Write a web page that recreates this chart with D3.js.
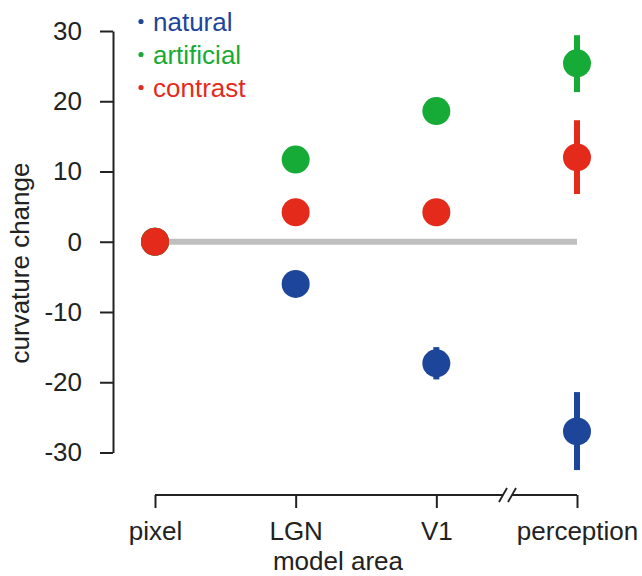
<!DOCTYPE html>
<html>
<head>
<meta charset="utf-8">
<script src="https://cdn.jsdelivr.net/npm/d3@7"></script>
<style>
  body { margin: 0; background: #fff; }
  text { font-family: "Liberation Sans", Arial, sans-serif; }
</style>
</head>
<body>
<div id="chart"></div>
<script>
// model areas along x
const categories = ['pixel', 'LGN', 'V1', 'perception'];
const yTicks = [-30, -20, -10, 0, 10, 20, 30];

// curvature change per area, with error bar ends
const natural = [0, -6.0, -17.3, -27.0];
const naturalLo = [0, -6.0, -19.6, -32.5];
const naturalHi = [0, -6.0, -15.0, -21.4];

const artificial = [0, 11.7, 18.6, 25.4];
const artificialLo = [0, 11.7, 18.6, 21.3];
const artificialHi = [0, 11.7, 18.6, 29.4];

const contrast = [0, 4.2, 4.2, 12.0];
const contrastLo = [0, 4.2, 4.2, 6.8];
const contrastHi = [0, 4.2, 4.2, 17.3];

const seriesNames = ['natural', 'artificial', 'contrast'];
const colors = ['#1d4599', '#16aa36', '#e42b1b'];

const width = 642, height = 576;
const fontSize = 26;
const svg = d3.select('#chart').append('svg')
    .attr('width', width)
    .attr('height', height);

const x = d3.scalePoint()
    .domain(categories)
    .range([155, 577]);
const y = d3.scaleLinear()
    .domain([-30, 30])
    .range([452.5, 31]);

// zero reference line
svg.append('line')
    .attr('x1', x('pixel')).attr('x2', x('perception'))
    .attr('y1', y(0)).attr('y2', y(0))
    .attr('stroke', '#bfbfbf')
    .attr('stroke-width', 6);

// y axis
const yAxis = svg.append('g')
    .attr('transform', 'translate(113,0)')
    .call(d3.axisLeft(y).tickValues(yTicks).tickFormat(d => String(d))
        .tickSize(13).tickSizeOuter(0).tickPadding(18));
yAxis.selectAll('path, line').attr('stroke', '#222').attr('stroke-width', 2);
yAxis.selectAll('text').attr('font-size', fontSize).attr('fill', '#222');

// x axis
const xAxis = svg.append('g')
    .attr('transform', 'translate(0,495)')
    .call(d3.axisBottom(x).tickSize(13).tickSizeOuter(0).tickPadding(14));
xAxis.select('.domain').remove();
xAxis.selectAll('line').attr('stroke', '#222').attr('stroke-width', 2);
xAxis.selectAll('text').attr('font-size', fontSize).attr('fill', '#222');
xAxis.insert('path', ':first-child')
    .attr('d', `M${x('pixel')},0H503M512,0H${x('perception')}`)
    .attr('stroke', '#222').attr('stroke-width', 2).attr('fill', 'none');
// axis break marks
[[499, 507], [508, 516]].forEach(([a, b]) => {
    xAxis.append('line')
        .attr('x1', a).attr('y1', 7).attr('x2', b).attr('y2', -7)
        .attr('stroke', '#222').attr('stroke-width', 1.8);
});

// axis titles
svg.append('text')
    .attr('x', 338).attr('y', 570)
    .attr('text-anchor', 'middle')
    .attr('font-size', fontSize).attr('fill', '#222')
    .text('model area');
svg.append('text')
    .attr('transform', 'translate(29,263) rotate(-90)')
    .attr('text-anchor', 'middle')
    .attr('font-size', fontSize).attr('fill', '#222')
    .text('curvature change');

// points with error bars
const series = [
    { vals: natural, lo: naturalLo, hi: naturalHi },
    { vals: artificial, lo: artificialLo, hi: artificialHi },
    { vals: contrast, lo: contrastLo, hi: contrastHi }
];
series.forEach((s, i) => {
    const g = svg.append('g');
    const rows = categories.map((c, j) => ({ c, v: s.vals[j], lo: s.lo[j], hi: s.hi[j] }));
    g.selectAll('line')
        .data(rows.filter(d => d.hi > d.lo))
        .enter().append('line')
        .attr('x1', d => x(d.c)).attr('x2', d => x(d.c))
        .attr('y1', d => y(d.lo)).attr('y2', d => y(d.hi))
        .attr('stroke', colors[i])
        .attr('stroke-width', 6);
    g.selectAll('circle')
        .data(rows)
        .enter().append('circle')
        .attr('cx', d => x(d.c))
        .attr('cy', d => y(d.v))
        .attr('r', 14)
        .attr('fill', colors[i]);
});

// legend
const legend = svg.append('g');
seriesNames.forEach((name, i) => {
    const ly = 31 + i * 33;
    legend.append('circle')
        .attr('cx', 141).attr('cy', ly - 9.5).attr('r', 2.6)
        .attr('fill', colors[i]);
    legend.append('text')
        .attr('x', 153).attr('y', ly)
        .attr('font-size', fontSize)
        .attr('fill', colors[i])
        .text(name);
});
</script>
</body>
</html>
